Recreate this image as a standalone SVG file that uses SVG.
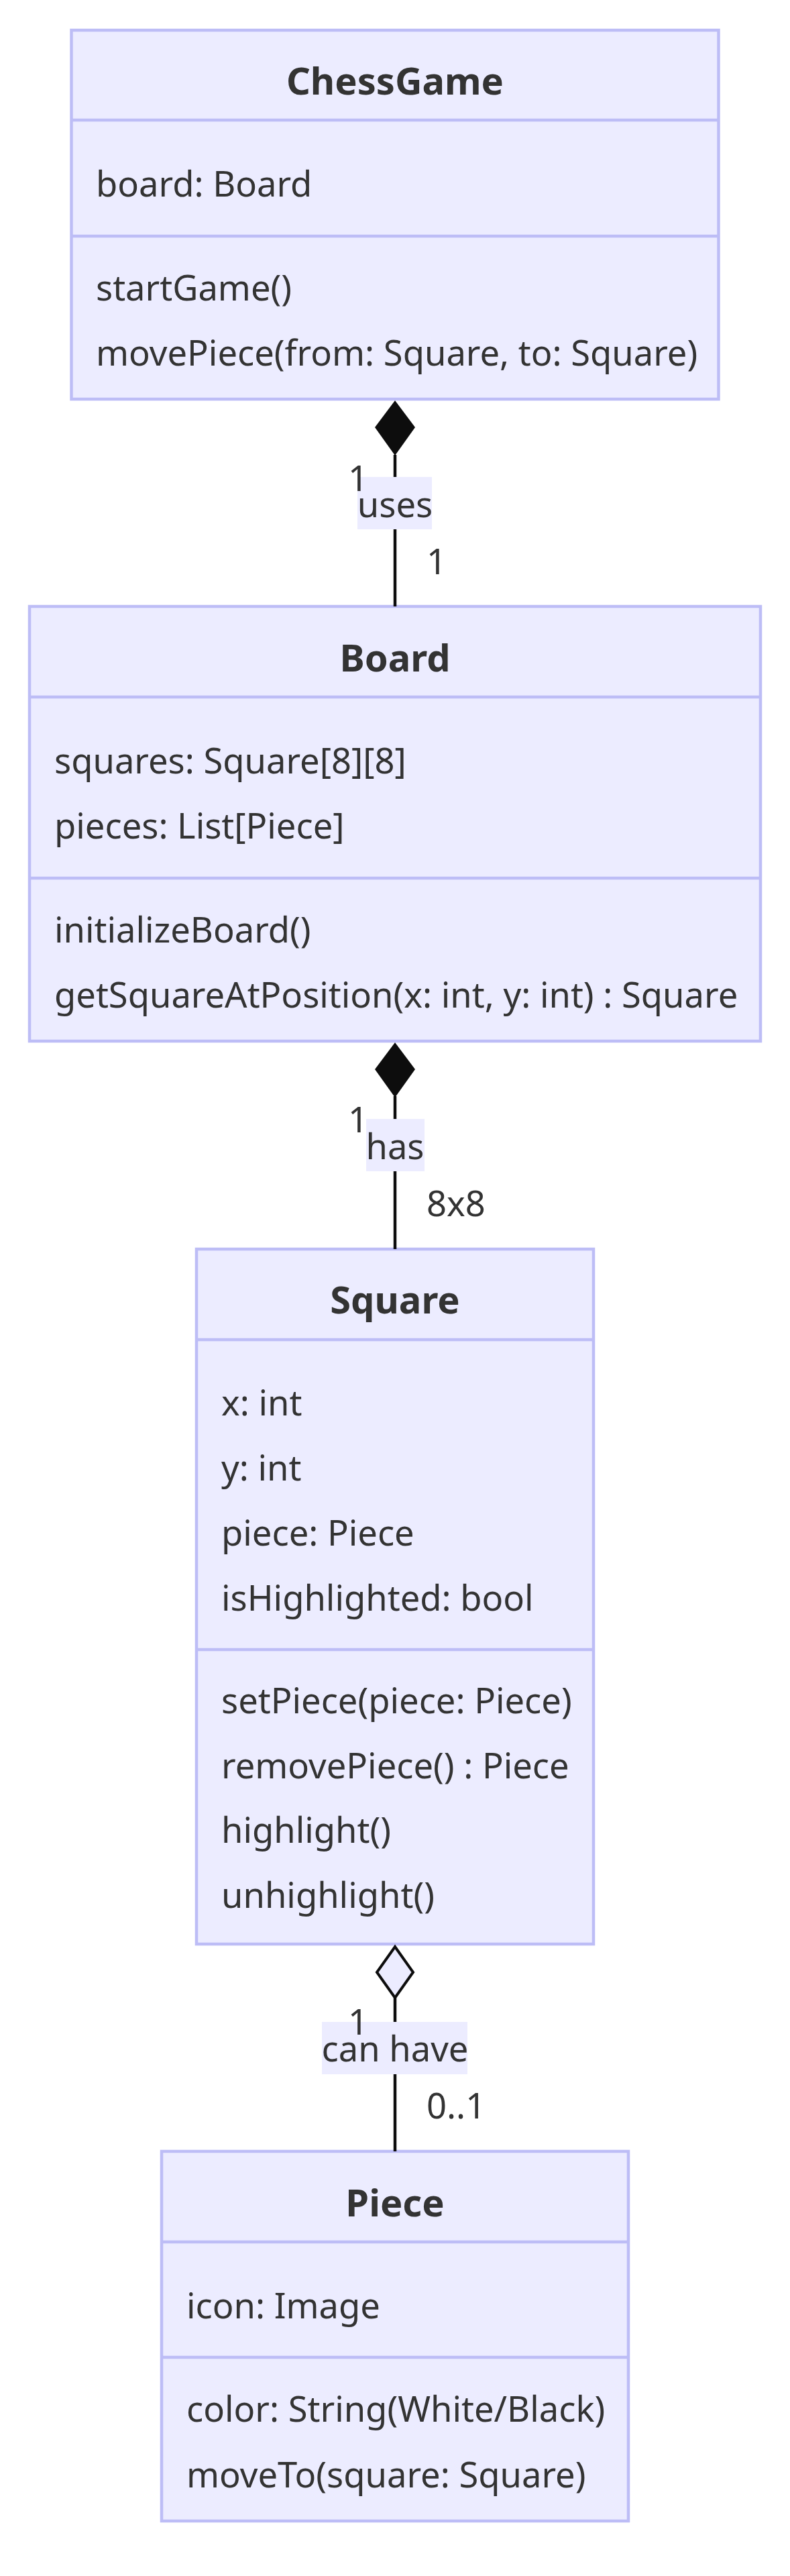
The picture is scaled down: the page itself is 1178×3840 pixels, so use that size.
<svg xmlns="http://www.w3.org/2000/svg" width="1178" height="3840" viewBox="0 0 1178 3840">
<style>
.box{fill:#ECECFF;stroke:#BDBDF6;stroke-width:4.5}
.div{stroke:#BDBDF6;stroke-width:4.5}
text{font-family:"Noto Sans","Open Sans","DejaVu Sans",sans-serif;font-size:52.5px;fill:#333333}
.title{font-weight:bold;text-anchor:middle;font-size:56px}
.mid{text-anchor:middle}
.edge{stroke:#0d0d0d;stroke-width:4.5;fill:none}
.lbl{fill:#ECECFF}
</style>
<rect width="1178" height="3840" fill="#ffffff"/>
<g id="ChessGame">
<rect class="box" x="106.5" y="45" width="965" height="550"/>
<line class="div" x1="106.5" y1="179" x2="1071.5" y2="179"/>
<line class="div" x1="106.5" y1="352" x2="1071.5" y2="352"/>
<text class="title" x="589" y="141">ChessGame</text>
<text x="143" y="293">board: Board</text>
<text x="143" y="448">startGame()</text>
<text x="143" y="545">movePiece(from: Square, to: Square)</text>
</g>
<g id="Board">
<rect class="box" x="44" y="904" width="1090" height="648"/>
<line class="div" x1="44" y1="1039" x2="1134" y2="1039"/>
<line class="div" x1="44" y1="1309" x2="1134" y2="1309"/>
<text class="title" x="589" y="1001">Board</text>
<text x="81" y="1153">squares: Square[8][8]</text>
<text x="81" y="1250">pieces: List[Piece]</text>
<text x="81" y="1405">initializeBoard()</text>
<text x="81" y="1502">getSquareAtPosition(x: int, y: int) : Square</text>
</g>
<g id="Square">
<rect class="box" x="293" y="1862" width="592" height="1036"/>
<line class="div" x1="293" y1="1997" x2="885" y2="1997"/>
<line class="div" x1="293" y1="2459" x2="885" y2="2459"/>
<text class="title" x="589" y="1958">Square</text>
<text x="330" y="2110">x: int</text>
<text x="330" y="2207">y: int</text>
<text x="330" y="2304">piece: Piece</text>
<text x="330" y="2401">isHighlighted: bool</text>
<text x="330" y="2554">setPiece(piece: Piece)</text>
<text x="330" y="2651">removePiece() : Piece</text>
<text x="330" y="2747">highlight()</text>
<text x="330" y="2844">unhighlight()</text>
</g>
<g id="Piece">
<rect class="box" x="241" y="3207" width="696" height="551"/>
<line class="div" x1="241" y1="3342" x2="937" y2="3342"/>
<line class="div" x1="241" y1="3514" x2="937" y2="3514"/>
<text class="title" x="589" y="3304">Piece</text>
<text x="278" y="3456">icon: Image</text>
<text x="278" y="3610">color: String(White/Black)</text>
<text x="278" y="3708">moveTo(square: Square)</text>
</g>
<g id="connectors">
<line class="edge" x1="589" y1="678" x2="589" y2="904"/>
<polygon points="589,597 619,637 589,679 559,637" fill="#0d0d0d"/>
<line class="edge" x1="589" y1="1634" x2="589" y2="1862"/>
<polygon points="589,1554 619,1594 589,1636 559,1594" fill="#0d0d0d"/>
<line class="edge" x1="589" y1="2978" x2="589" y2="3207"/>
<polygon points="589,2902 616,2940 589,2978 562,2940" fill="#ECECFF" stroke="#0d0d0d" stroke-width="4"/>
<rect class="lbl" x="533" y="711" width="111" height="78"/>
<text class="mid" x="589" y="771">uses</text>
<rect class="lbl" x="546" y="1668" width="87" height="78"/>
<text class="mid" x="589" y="1728">has</text>
<rect class="lbl" x="480" y="3014" width="217" height="78"/>
<text class="mid" x="589" y="3073">can have</text>
<text x="519" y="732">1</text>
<text x="636" y="856">1</text>
<text x="519" y="1688">1</text>
<text x="636" y="1813">8x8</text>
<text x="519" y="3033">1</text>
<text x="636" y="3158">0..1</text>
</g>
</svg>
